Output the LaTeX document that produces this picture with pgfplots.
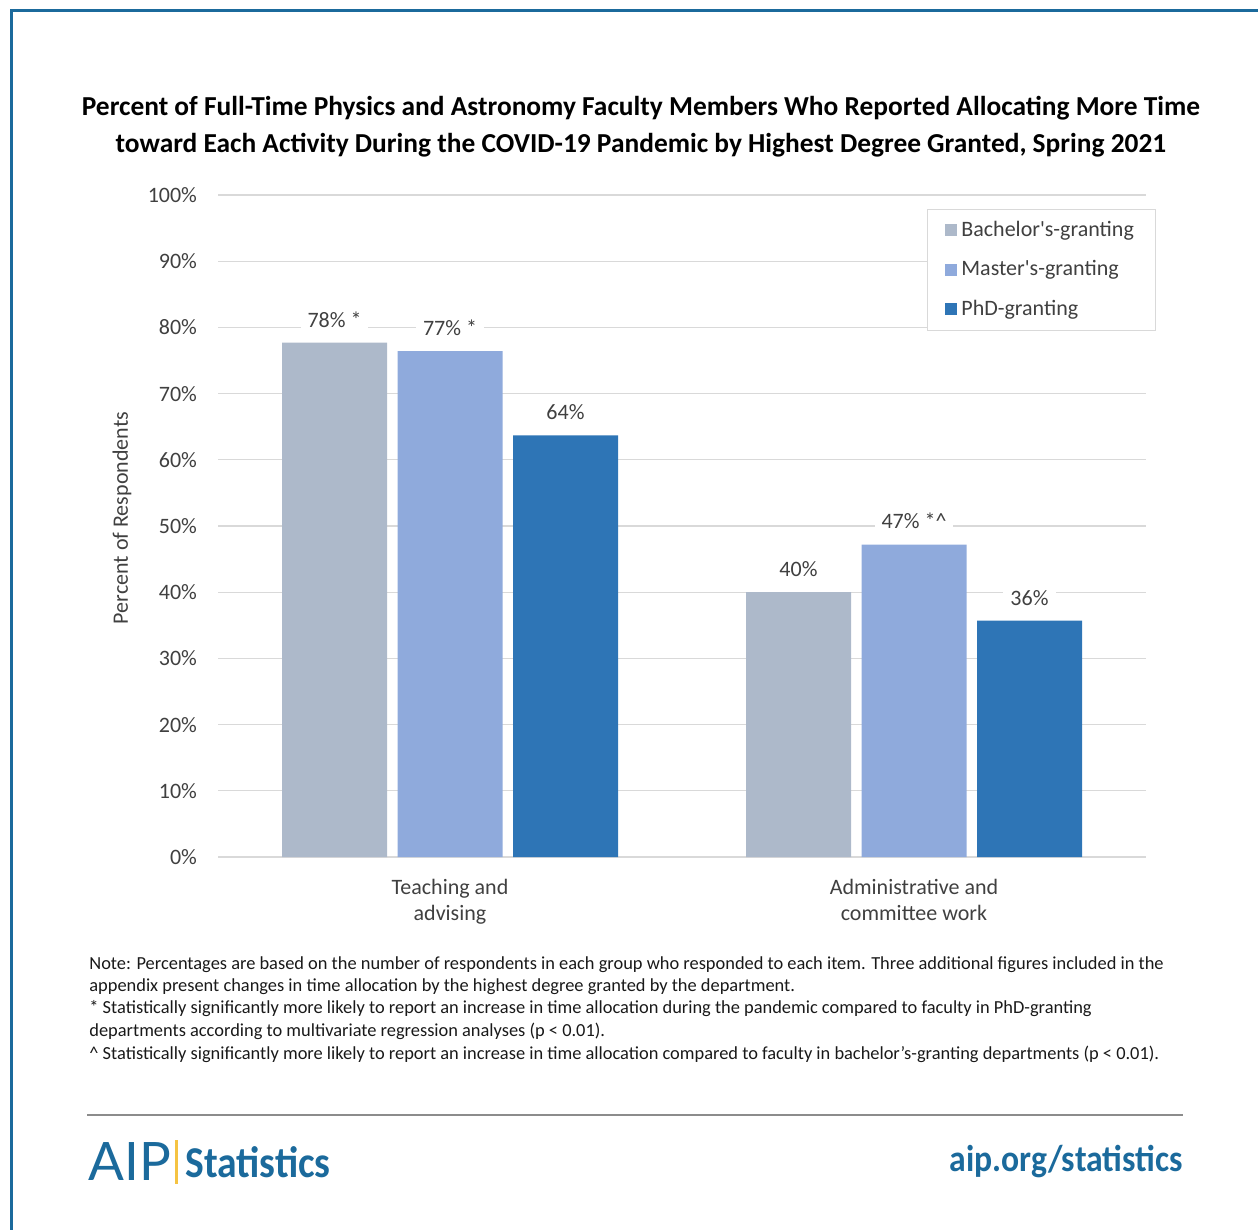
\documentclass[border=0pt]{standalone}
\usepackage{fontspec}
\setmainfont{Carlito}
\usepackage{pgfplots}
\pgfplotsset{compat=1.18}
\usepackage{pgfplotstable}
\newfontfamily\titlefont[FakeStretch=0.9]{Carlito}
\newfontfamily\logofont{Lato}

\definecolor{bach}{HTML}{ADB9CA}
\definecolor{mast}{HTML}{8FAADC}
\definecolor{phd}{HTML}{2E75B6}
\definecolor{txt}{HTML}{404040}
\definecolor{gridc}{HTML}{D9D9D9}
\definecolor{aip}{HTML}{1B6A9C}
\definecolor{aipyel}{HTML}{F5C342}

% x = 0 teaching and advising, x = 1 administrative and committee work
\pgfplotstableread{
x y lab
0 77.7 {78\% *}
1 40.0 {40\%}
}\bachelor
\pgfplotstableread{
x y lab
0 76.4 {77\% *}
1 47.2 {47\% *\^{}}
}\master
\pgfplotstableread{
x y lab
0 63.7 {64\%}
1 35.7 {36\%}
}\phd

\begin{document}
\begin{tikzpicture}
% page frame, 1 px = 0.5 pt, y downwards
\begin{scope}[x=0.5pt,y=-0.5pt]
\path[use as bounding box] (0,0) rectangle (1258,1230);
\draw[aip, line width=1.5pt] (1270,11) -- (11,11) -- (11,1240);
\node[font=\bfseries\fontsize{13.7}{18.5}\selectfont, align=center] at (641,126.5)
  {Percent of Full-Time Physics and Astronomy Faculty Members Who Reported Allocating More Time\\
   toward Each Activity During the COVID-19 Pandemic by Highest Degree Granted, Spring 2021};
\begin{scope}[every node/.style={anchor=west, inner sep=0pt, font=\fontsize{9.2}{11}\selectfont, text=black!90}]
\node at (89,965) {Note: Percentages are based on the number of respondents in each group who responded to each item. Three additional figures included in the};
\node at (89,987) {appendix present changes in time allocation by the highest degree granted by the department.};
\node at (89,1009) {* Statistically significantly more likely to report an increase in time allocation during the pandemic compared to faculty in PhD-granting};
\node at (89,1031) {departments according to multivariate regression analyses (p < 0.01).};
\node at (89,1054) {\^{} Statistically significantly more likely to report an increase in time allocation compared to faculty in bachelor's-granting departments (p < 0.01).};
\end{scope}
\draw[black!45, line width=1pt] (87,1115) -- (1183,1115);
\node[anchor=west, inner sep=0pt, text=aip, font=\logofont\fontsize{26.5}{26.5}\selectfont] at (88,1162) {AIP};
\fill[aipyel] (175,1140) rectangle (177.5,1184);
\node[anchor=west, inner sep=0pt, text=aip, font=\titlefont\bfseries\fontsize{22}{22}\selectfont] at (185,1162) {Statistics};
\node[anchor=east, inner sep=0pt, text=aip, font=\titlefont\bfseries\fontsize{18.7}{18.7}\selectfont] at (1183,1162) {aip.org/statistics};
\end{scope}

\begin{axis}[
  at={(109pt,-428.5pt)}, anchor=south west,
  scale only axis, width=464pt, height=331pt,
  ybar=5.25pt, bar width=52.5pt,
  xmin=-0.5, xmax=1.5, ymin=0, ymax=100,
  axis line style={draw=none},
  ymajorgrids, xmajorgrids=false,
  grid style={draw=gridc, line width=0.6pt},
  ytick={0,10,...,100},
  yticklabel={\pgfmathprintnumber{\tick}\%},
  yticklabel style={text=txt, xshift=-7pt},
  /pgf/number format/assume math mode=true,
  xtick={0,1},
  xticklabels={Teaching and\\advising, Administrative and\\committee work},
  xticklabel style={align=center, text=txt, yshift=-3.5pt},
  tick style={draw=none},
  font=\fontsize{11}{13}\selectfont,
  ylabel={Percent of Respondents},
  ylabel style={at={(axis description cs:-0.1034,0.512)}, anchor=center, text=txt},
  nodes near coords, point meta=explicit symbolic,
  every node near coord/.append style={text=txt, fill=white, inner xsep=3.5pt, inner ysep=1.5pt, yshift=6pt},
  legend style={at={(0.764,0.979)}, anchor=north west, draw=gridc, text=txt,
    row sep=6.5pt, inner xsep=9pt, inner ysep=4pt, font=\fontsize{11}{13}\selectfont},
  legend cell align=left,
  legend image code/.code={\fill[#1] (0pt,-3pt) rectangle (6pt,3pt);},
]
\addplot[fill=bach, draw=none] table[x=x, y=y, meta=lab] {\bachelor};
\addplot[fill=mast, draw=none] table[x=x, y=y, meta=lab] {\master};
\addplot[fill=phd, draw=none] table[x=x, y=y, meta=lab] {\phd};
\legend{Bachelor\textquotesingle s-granting, Master\textquotesingle s-granting, PhD-granting}
\end{axis}
\end{tikzpicture}
\end{document}
